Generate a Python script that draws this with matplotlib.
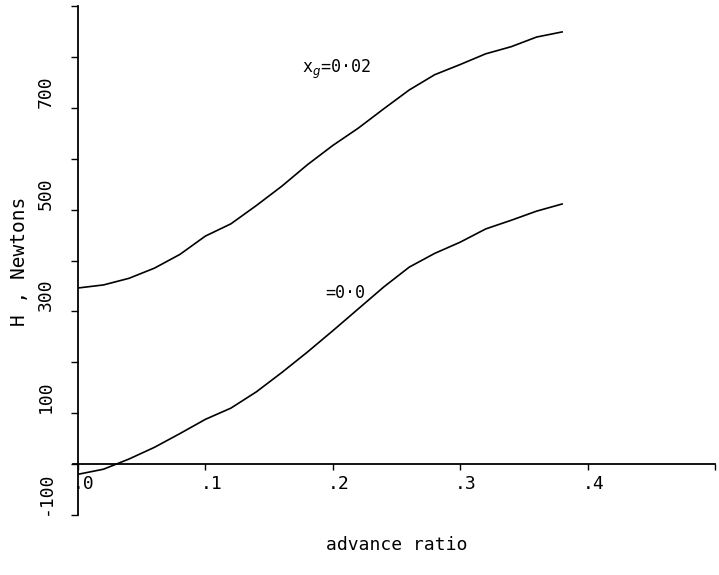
import matplotlib
matplotlib.use("Agg")
import matplotlib.pyplot as plt
import matplotlib.transforms as mtransforms
import numpy as np

# advance ratio (x) and H in Newtons for the two curves
mu = [0.0, 0.02, 0.04, 0.06, 0.08, 0.10, 0.12, 0.14, 0.16, 0.18, 0.20,
      0.22, 0.24, 0.26, 0.28, 0.30, 0.32, 0.34, 0.36, 0.38]
h_xg002 = [346, 352, 365, 385, 412, 448, 472, 508, 546, 588, 626,
           660, 698, 735, 765, 785, 806, 820, 839, 849]
h_xg00 = [-20, -10, 10, 33, 60, 88, 110, 142, 180, 220, 262,
          305, 348, 387, 414, 436, 462, 479, 497, 511]

xticks = [0.0, 0.1, 0.2, 0.3, 0.4]
xtick_labels = ['.0', '.1', '.2', '.3', '.4']
ylabel_ticks = [-100, 100, 300, 500, 700]

font = 'DejaVu Sans Mono'

fig = plt.figure(figsize=(7.19, 5.75), dpi=100)
ax = fig.add_axes([0.1085, 0.1043, 0.8859, 0.8853])

ax.plot(mu, h_xg002, color='black', linewidth=1.2)
ax.plot(mu, h_xg00, color='black', linewidth=1.2)

ax.set_xlim(0, 0.5)
ax.set_ylim(-100, 900)

for s in ['top', 'right']:
    ax.spines[s].set_visible(False)
ax.spines['bottom'].set_position(('data', 0))
ax.spines['bottom'].set_bounds(-0.004, 0.5)
ax.spines['left'].set_linewidth(1.3)
ax.spines['bottom'].set_linewidth(1.3)

# y ticks every 100, labels only on alternating ones
ax.set_yticks(np.arange(-100, 901, 100))
ax.set_yticklabels([str(v) if v in ylabel_ticks else '' for v in range(-100, 901, 100)])
ax.tick_params(axis='y', direction='out', length=5, width=1.0, pad=18)
for lbl in ax.get_yticklabels():
    lbl.set_rotation(90)
    lbl.set_va('bottom')
    lbl.set_ha('center')
    lbl.set_family(font)
    lbl.set_fontsize(13)

ax.set_xticks(xticks + [0.5])
ax.set_xticklabels(xtick_labels + [''])
ax.tick_params(axis='x', direction='out', length=4, width=1.0, pad=4)
offset = mtransforms.ScaledTranslation(-5 / 100, 0, fig.dpi_scale_trans)
for lbl in ax.get_xticklabels():
    lbl.set_ha('left')
    lbl.set_family(font)
    lbl.set_fontsize(13)
    lbl.set_transform(lbl.get_transform() + offset)

fig.text(0.027, 0.545, 'H , Newtons', rotation=90, ha='center', va='center',
         family=font, fontsize=14)
fig.text(0.552, 0.052, 'advance ratio', ha='center', va='center',
         family=font, fontsize=13)

ax.text(0.176, 775, 'x$_g$=0·02', family=font, fontsize=12, va='center')
ax.text(0.194, 336, '=0·0', family=font, fontsize=12, va='center')

fig.savefig('out.png', dpi=100)
